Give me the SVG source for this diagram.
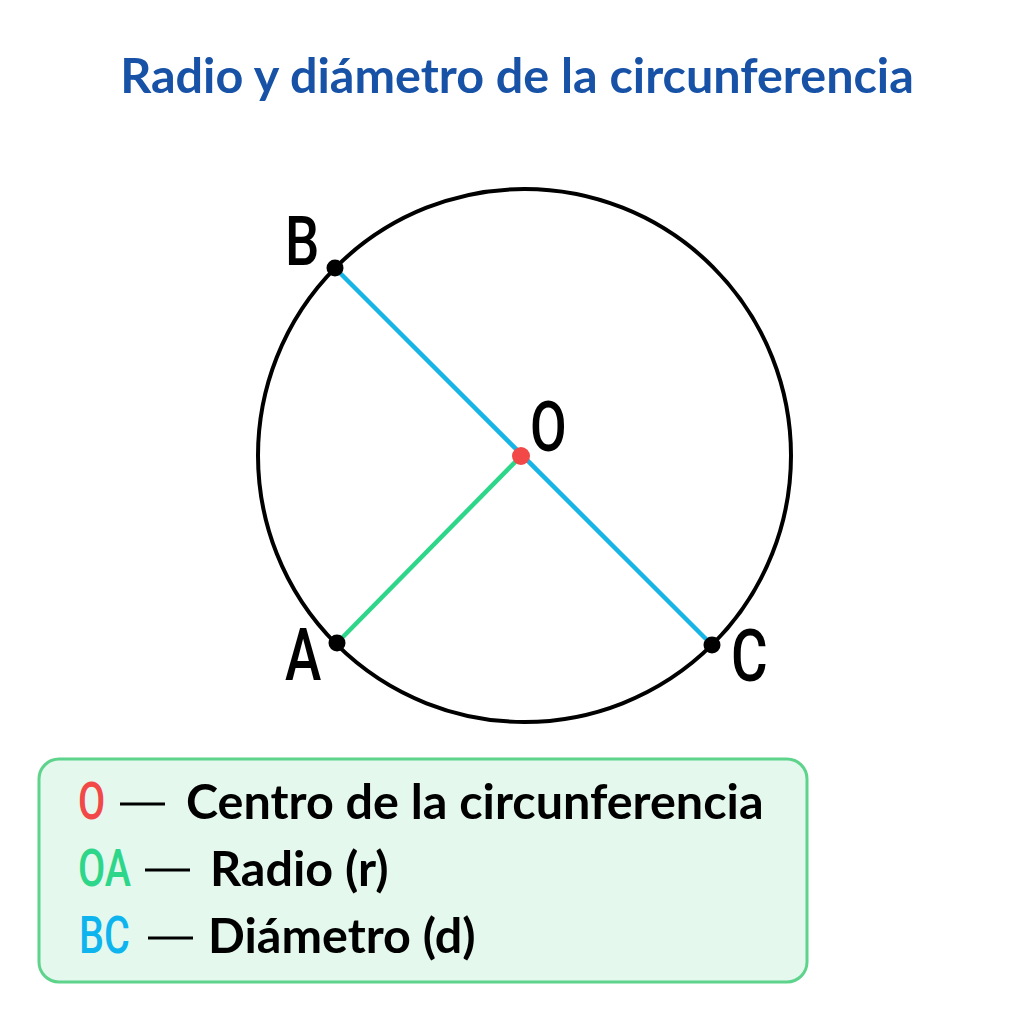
<svg xmlns="http://www.w3.org/2000/svg" width="1024" height="1024" viewBox="0 0 1024 1024">
<style>
.title{font-family:Lato,"Liberation Sans",sans-serif;font-weight:700;font-size:48.5px;fill:#1752A7}
.lbl{font-family:Roboto,"Liberation Sans",sans-serif;font-weight:500;font-size:70px;fill:#000}
.key{font-family:Roboto,"Liberation Sans",sans-serif;font-weight:500;font-size:52px}
.txt{font-family:Lato,"Liberation Sans",sans-serif;font-weight:700;font-size:48.5px;fill:#000}
.dash{stroke:#000;stroke-width:3}
.pt{fill:#000}
</style>
<rect width="1024" height="1024" fill="#fff"/>
<text class="title" x="517" y="93" text-anchor="middle">Radio y diámetro de la circunferencia</text>
<g id="circle"><circle cx="524.5" cy="455.5" r="266.5" fill="none" stroke="#000" stroke-width="4"/></g>
<g id="connectors">
<line x1="335" y1="268" x2="712" y2="645" stroke="#17B4E6" stroke-width="4.5"/>
<line x1="521" y1="456" x2="337" y2="643" stroke="#2ED68A" stroke-width="4.5"/>
</g>
<g id="node-B"><circle class="pt" cx="335" cy="268" r="8.5"/><text class="lbl" transform="translate(285,265) scale(0.8,1)" style="font-size:68px">B</text></g>
<g id="node-A"><circle class="pt" cx="337" cy="643" r="8.5"/><text class="lbl" transform="translate(285,680) scale(0.76,1)" style="font-size:72px">A</text></g>
<g id="node-C"><circle class="pt" cx="712" cy="645" r="8.5"/><text class="lbl" transform="translate(731,681) scale(0.78,1)" style="font-size:72px">C</text></g>
<g id="node-O"><circle cx="521" cy="456" r="9" fill="#F24848"/><text class="lbl" transform="translate(530,451) scale(0.76,1)">O</text></g>
<g id="legend">
<rect x="39" y="759" width="768" height="223" rx="20" fill="#E5F8EE" stroke="#5DD38B" stroke-width="3"/>
<text class="key" transform="translate(78,819) scale(0.76,1)" fill="#F24848">O</text>
<line class="dash" x1="120" y1="804" x2="165" y2="804"/>
<text class="txt" x="186" y="819">Centro de la circunferencia</text>
<text class="key" transform="translate(78,886) scale(0.76,1)" fill="#2ED68A">OA</text>
<line class="dash" x1="145" y1="870" x2="190" y2="870"/>
<text class="txt" x="210" y="886">Radio (r)</text>
<text class="key" transform="translate(79,953) scale(0.76,1)" fill="#0DB4EE">BC</text>
<line class="dash" x1="148" y1="938" x2="193" y2="938"/>
<text class="txt" x="208" y="953">Diámetro (d)</text>
</g>
</svg>
